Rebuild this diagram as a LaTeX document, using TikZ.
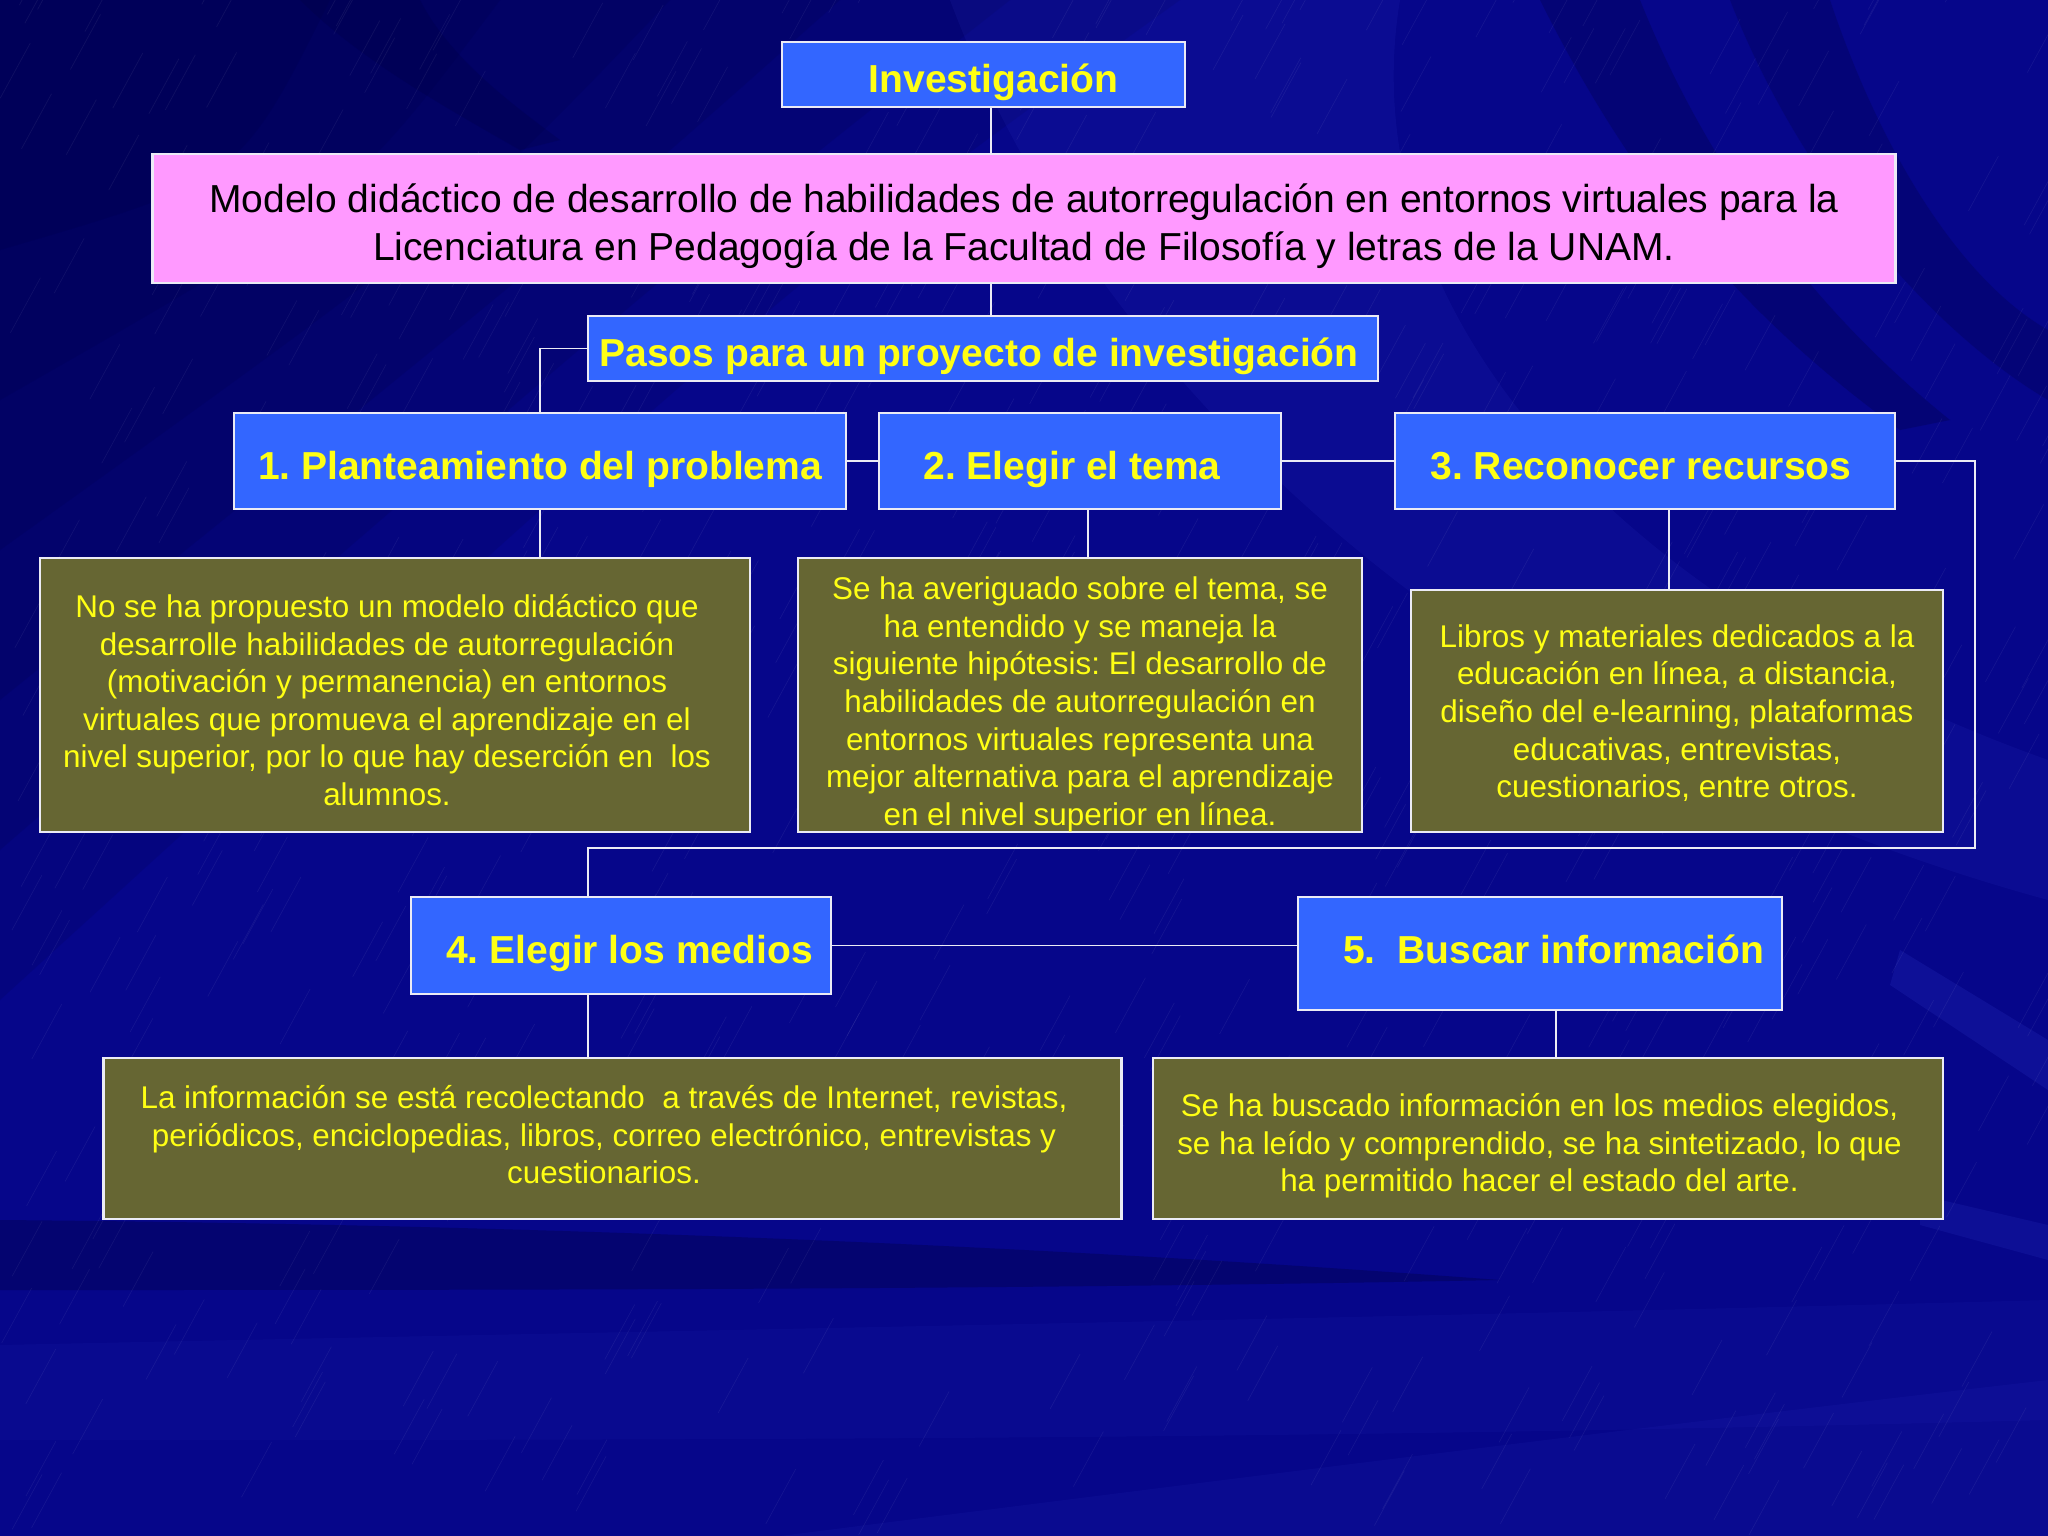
\documentclass[tikz,border=0pt]{standalone}
\usepackage{fontspec}
\setmainfont{Liberation Sans}
\usetikzlibrary{calc}
\definecolor{bgbase}{RGB}{6,6,138}
\definecolor{bgdark}{RGB}{0,0,55}
\definecolor{bglight}{RGB}{60,70,220}
\definecolor{boxblue}{RGB}{51,102,255}
\definecolor{txtyellow}{RGB}{255,255,20}
\definecolor{pinkfill}{RGB}{255,153,255}
\definecolor{olivefill}{RGB}{102,102,51}
\definecolor{edgewhite}{RGB}{235,235,245}
\newcommand{\lowered}[2]{\raisebox{-#1}[\height][\depth]{\begin{tabular}{@{}c@{}}#2\end{tabular}}}
\tikzset{
  headbox/.style={draw=edgewhite, line width=0.7pt, fill=boxblue, inner sep=0pt, outer sep=0pt,
    text=txtyellow, font=\fontsize{11.1}{13}\selectfont\bfseries\frenchspacing,
    text height=10.5pt, text depth=0pt},
  pinkbox/.style={draw=edgewhite, line width=0.7pt, fill=pinkfill, inner sep=0pt, outer sep=0pt,
    text=black, font=\fontsize{11.1}{13.7}\selectfont\frenchspacing},
  olivebox/.style={draw=edgewhite, line width=0.7pt, fill=olivefill, inner sep=0pt, outer sep=0pt,
    text=txtyellow, font=\fontsize{8.93}{10.7}\selectfont\frenchspacing},
  link/.style={draw=edgewhite, line width=0.5pt},
  hatch/.style={draw=white, line width=0.2pt, opacity=0.06}
}
\begin{document}
\begin{tikzpicture}[x=0.01cm,y=-0.01cm]
% ---------- background ----------
\fill[bgbase] (0,0) rectangle (2048,1536);
\useasboundingbox (0,0) rectangle (2048,1536);
\foreach \k in {1,...,6} {
  \fill[bgdark, opacity=0.13] (0,0) -- ({1350-170*\k},0) .. controls ({900-110*\k},{300-20*\k}) .. (0,{1150-150*\k}) -- cycle;
}
% dark streaks at the top right
\fill[bgdark, opacity=0.25] (1540,0) -- (1640,0) .. controls (1700,150) and (1800,300) .. (1950,420) -- (1900,430) .. controls (1720,300) and (1620,160) .. (1540,0) -- cycle;
\fill[bgdark, opacity=0.22] (1730,0) -- (1830,0) .. controls (1880,150) and (1960,280) .. (2048,330) -- (2048,400) .. controls (1930,330) and (1800,180) .. (1730,0) -- cycle;
\fill[bgdark, opacity=0.2] (300,0) -- (420,0) .. controls (450,60) and (520,110) .. (560,140) -- (520,150) .. controls (450,110) and (360,60) .. (300,0) -- cycle;
% lighter streaks
\fill[bglight, opacity=0.10] (950,0) -- (1400,0) .. controls (1350,300) and (1600,600) .. (2048,760) -- (2048,900) .. controls (1500,750) and (1100,400) .. (950,0) -- cycle;
\fill[bglight, opacity=0.16] (1900,950) -- (2048,1040) -- (2048,1090) -- (1890,985) -- cycle;
\fill[bglight, opacity=0.14] (1920,1195) -- (2048,1225) -- (2048,1260) -- (1920,1225) -- cycle;
% bottom bands
\fill[bgdark, opacity=0.3] (0,1220) .. controls (600,1225) and (1100,1250) .. (1500,1280) .. controls (1000,1290) and (500,1290) .. (0,1290) -- cycle;
\fill[bglight, opacity=0.07] (0,1345) .. controls (700,1330) and (1300,1320) .. (2048,1300) -- (2048,1420) .. controls (1300,1440) and (700,1440) .. (0,1440) -- cycle;
\fill[bglight, opacity=0.08] (780,1536) .. controls (1300,1470) and (1700,1420) .. (2048,1380) -- (2048,1536) -- cycle;
% faint diagonal hatch
\pgfmathsetseed{11}
\foreach \i in {1,...,700} {
  \pgfmathsetmacro\hx{rnd*2048}
  \pgfmathsetmacro\hy{rnd*1536}
  \draw[hatch] (\hx,\hy) -- ++(30,-55);
}

% ---------- nodes ----------
\node[headbox, minimum width=4.03cm, minimum height=0.65cm] (inv) at (983.5,74.5) {\hspace*{0.2cm}Investigación};
\node[pinkbox, minimum width=17.42cm, minimum height=1.29cm] (pink) at (1024,218.5)
  {\lowered{0.08cm}{Modelo didáctico de desarrollo de habilidades de autorregulación en entornos virtuales para la\\
   Licenciatura en Pedagogía de la Facultad de Filosofía y letras de la UNAM.}};
\node[headbox, minimum width=7.90cm, minimum height=0.65cm] (pasos) at (983,348.5) {Pasos para un proyecto de investigación\hspace*{0.08cm}};
\node[headbox, minimum width=6.12cm, minimum height=0.96cm] (b1) at (540,461) {1. Planteamiento del problema};
\node[headbox, minimum width=4.02cm, minimum height=0.96cm] (b2) at (1080,461) {2. Elegir el tema\hspace*{0.16cm}};
\node[headbox, minimum width=5.00cm, minimum height=0.96cm] (b3) at (1645,461) {3. Reconocer recursos\hspace*{0.08cm}};
\node[olivebox, minimum width=7.10cm, minimum height=2.74cm] (o1) at (395,695)
  {\lowered{0.09cm}{No se ha propuesto un modelo didáctico que\\
   desarrolle habilidades de autorregulación\\
   (motivación y permanencia) en entornos\\
   virtuales que promueva el aprendizaje en el\\
   nivel superior, por lo que hay deserción en~~los\\
   alumnos.}\hspace*{0.16cm}};
\node[olivebox, minimum width=5.64cm, minimum height=2.74cm] (o2) at (1080,695)
  {\lowered{0.10cm}{Se ha averiguado sobre el tema, se\\
   ha entendido y se maneja la\\
   siguiente hipótesis: El desarrollo de\\
   habilidades de autorregulación en\\
   entornos virtuales representa una\\
   mejor alternativa para el aprendizaje\\
   en el nivel superior en línea.}};
\node[olivebox, minimum width=5.32cm, minimum height=2.42cm] (o3) at (1677,711)
  {\lowered{0.04cm}{Libros y materiales dedicados a la\\
   educación en línea, a distancia,\\
   diseño del e-learning, plataformas\\
   educativas, entrevistas,\\
   cuestionarios, entre otros.}};
\node[headbox, minimum width=4.20cm, minimum height=0.97cm] (b4) at (621,945.5) {\hspace*{0.17cm}4. Elegir los medios};
\node[headbox, minimum width=4.84cm, minimum height=1.13cm, text height=5.7pt] (b5) at (1540,953.5) {\hspace*{0.27cm}5.~~Buscar información};
\node[olivebox, minimum width=10.17cm, minimum height=1.61cm] (o4) at (612.5,1138.5)
  {\lowered{0cm}{La información se está recolectando~~a través de Internet, revistas,\\
   periódicos, enciclopedias, libros, correo electrónico, entrevistas y\\
   cuestionarios.}\hspace*{0.17cm}};
\node[olivebox, minimum width=7.90cm, minimum height=1.61cm] (o5) at (1548,1138.5)
  {\lowered{0.08cm}{Se ha buscado información en los medios elegidos,\\
   se ha leído y comprendido, se ha sintetizado, lo que\\
   ha permitido hacer el estado del arte.}\hspace*{0.17cm}};

% ---------- helper coordinates ----------
\coordinate (cx1) at (991,0);
\coordinate (cx2) at (1088,0);
\coordinate (cx3) at (1669,0);
\coordinate (cx4) at (588,0);
\coordinate (cx5) at (1556,0);
\coordinate (rt) at (1975,461);
\coordinate (rb) at (1975,848);

% ---------- connectors ----------
\draw[link] (inv.south -| cx1) -- (pink.north -| cx1);
\draw[link] (pink.south -| cx1) -- (pasos.north -| cx1);
\draw[link] (pasos.west) -| (b1.north);
\draw[link] (b1.east) -- (b2.west);
\draw[link] (b2.east) -- (b3.west);
\draw[link] (b1.south) -- (o1.north -| b1.south);
\draw[link] (b2.south -| cx2) -- (o2.north -| cx2);
\draw[link] (b3.south -| cx3) -- (o3.north -| cx3);
\draw[link] (b3.east) -- (rt) -- (rb) -- (rb -| cx4) -- (b4.north -| cx4);
\draw[link] (b4.east) -- (b5.west |- b4.east);
\draw[link] (b4.south -| cx4) -- (o4.north -| cx4);
\draw[link] (b5.south -| cx5) -- (o5.north -| cx5);
\end{tikzpicture}
\end{document}
